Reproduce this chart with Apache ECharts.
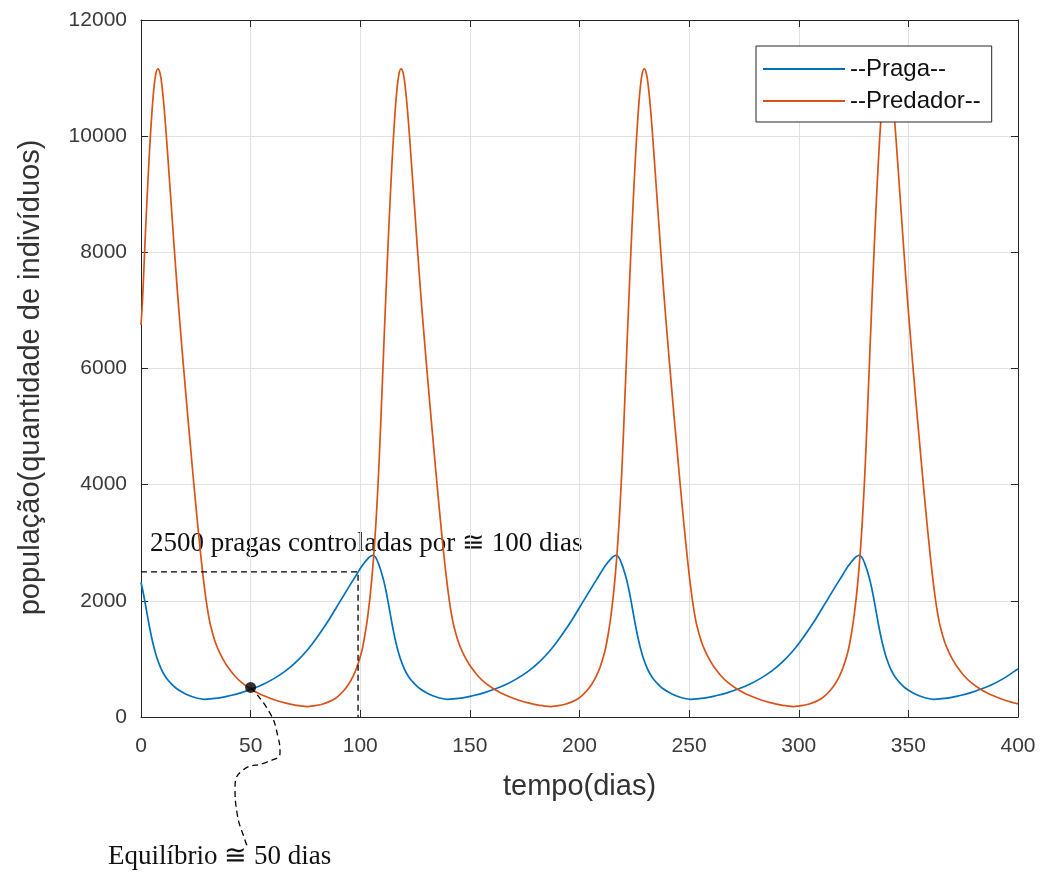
<!DOCTYPE html>
<html>
<head>
<meta charset="utf-8">
<script src="https://cdn.jsdelivr.net/npm/echarts@6/dist/echarts.min.js"></script>
<style>
  html, body { margin: 0; padding: 0; background: #fff; }
  #myChart { width: 1046px; height: 876px; }
</style>
</head>
<body>
<div id="myChart"></div>
<script>
// praga (presa)
var tempoPraga = [0, 0.9, 1.9, 2.9, 3.9, 4.9, 5.9, 6.9, 7.9, 8.9, 9.9, 10.9, 11.9, 13.9, 15.9, 18.9, 21.9, 24.9, 28.9,
  35.8, 40.8, 45.8, 50.8, 55.8, 60.8, 65.8, 70.8, 75.8, 80.8, 85.8, 90.8, 95.8, 97.8, 99.8, 101.8, 103.8, 104.8, 105.8,
  106.8, 107.8, 108.8, 109.8, 110.8, 111.8, 112.8, 113.8, 114.8, 115.8, 116.8, 117.8, 118.8, 119.8, 120.8, 121.8, 122.8, 124.8, 126.8, 129.8, 132.8, 135.8, 139.8,
  146.7, 151.7, 156.7, 161.7, 166.7, 171.7, 176.7, 181.7, 186.7, 191.7, 196.7, 201.7, 206.7, 208.7, 210.7, 212.7, 214.7, 215.7, 216.7,
  217.7, 218.7, 219.7, 220.7, 221.7, 222.7, 223.7, 224.7, 225.7, 226.7, 227.7, 228.7, 229.7, 230.7, 231.7, 232.7, 233.7, 235.7, 237.7, 240.7, 243.7, 246.7, 250.7,
  257.6, 262.6, 267.6, 272.6, 277.6, 282.6, 287.6, 292.6, 297.6, 302.6, 307.6, 312.6, 317.6, 319.6, 321.6, 323.6, 325.6, 326.6, 327.6,
  328.6, 329.6, 330.6, 331.6, 332.6, 333.6, 334.6, 335.6, 336.6, 337.6, 338.6, 339.6, 340.6, 341.6, 342.6, 343.6, 344.6, 346.6, 348.6, 351.6, 354.6, 357.6, 361.6,
  368.5, 373.5, 378.5, 383.5, 388.5, 393.5, 398.5, 400];
var praga = [2320, 2160, 1960, 1750, 1545, 1360, 1200, 1065, 950, 855, 775, 710, 655, 570, 500, 425, 370, 332, 305,
  330, 370, 420, 485, 565, 665, 790, 950, 1150, 1400, 1680, 1990, 2300, 2420, 2545, 2650, 2740, 2770, 2785,
  2760, 2690, 2590, 2470, 2330, 2160, 1960, 1750, 1545, 1360, 1200, 1065, 950, 855, 775, 710, 655, 570, 500, 425, 370, 332, 305,
  330, 370, 420, 485, 565, 665, 790, 950, 1150, 1400, 1680, 1990, 2300, 2420, 2545, 2650, 2740, 2770, 2785,
  2760, 2690, 2590, 2470, 2330, 2160, 1960, 1750, 1545, 1360, 1200, 1065, 950, 855, 775, 710, 655, 570, 500, 425, 370, 332, 305,
  330, 370, 420, 485, 565, 665, 790, 950, 1150, 1400, 1680, 1990, 2300, 2420, 2545, 2650, 2740, 2770, 2785,
  2760, 2690, 2590, 2470, 2330, 2160, 1960, 1750, 1545, 1360, 1200, 1065, 950, 855, 775, 710, 655, 570, 500, 425, 370, 332, 305,
  330, 370, 420, 485, 565, 665, 790, 825];

// predador
var tempoPredador = [0, 0.7, 1.7, 2.7, 3.7, 4.7, 5.7, 6.7, 7.7,
  8.7, 9.7, 10.7, 11.7, 12.7, 13.7, 14.7, 15.7, 16.7, 17.7, 18.7, 19.7, 20.7, 21.7, 22.7, 23.7, 24.7, 25.7, 26.7, 27.7, 28.7, 29.7, 30.7, 31.7,
  33.7, 35.7, 37.7, 39.7, 42.7, 45.7, 49.7, 53.7, 57.7, 61.7, 65.7, 69.7, 72.7, 75.7,
  78.6, 82.6, 85.6, 88.6, 90.6, 92.6, 94.6, 96.6, 98.6, 100.6, 101.6, 102.6, 103.6, 104.6, 105.6, 106.6, 107.6, 108.6, 109.6, 110.6,
  111.6, 112.6, 113.6, 114.6, 115.6, 116.6, 117.6, 118.6,
  119.6, 120.6, 121.6, 122.6, 123.6, 124.6, 125.6, 126.6, 127.6, 128.6, 129.6, 130.6, 131.6, 132.6, 133.6, 134.6, 135.6, 136.6, 137.6, 138.6, 139.6, 140.6, 141.6, 142.6,
  144.6, 146.6, 148.6, 150.6, 153.6, 156.6, 160.6, 164.6, 168.6, 172.6, 176.6, 180.6, 183.6, 186.6,
  189.5, 193.5, 196.5, 199.5, 201.5, 203.5, 205.5, 207.5, 209.5, 211.5, 212.5, 213.5, 214.5, 215.5, 216.5, 217.5, 218.5, 219.5, 220.5, 221.5,
  222.5, 223.5, 224.5, 225.5, 226.5, 227.5, 228.5, 229.5,
  230.5, 231.5, 232.5, 233.5, 234.5, 235.5, 236.5, 237.5, 238.5, 239.5, 240.5, 241.5, 242.5, 243.5, 244.5, 245.5, 246.5, 247.5, 248.5, 249.5, 250.5, 251.5, 252.5, 253.5,
  255.5, 257.5, 259.5, 261.5, 264.5, 267.5, 271.5, 275.5, 279.5, 283.5, 287.5, 291.5, 294.5, 297.5,
  300.4, 304.4, 307.4, 310.4, 312.4, 314.4, 316.4, 318.4, 320.4, 322.4, 323.4, 324.4, 325.4, 326.4, 327.4, 328.4, 329.4, 330.4, 331.4, 332.4,
  333.4, 334.4, 335.4, 336.4, 337.4, 338.4, 339.4, 340.4,
  341.4, 342.4, 343.4, 344.4, 345.4, 346.4, 347.4, 348.4, 349.4, 350.4, 351.4, 352.4, 353.4, 354.4, 355.4, 356.4, 357.4, 358.4, 359.4, 360.4, 361.4, 362.4, 363.4, 364.4,
  366.4, 368.4, 370.4, 372.4, 375.4, 378.4, 382.4, 386.4, 390.4, 394.4, 398.4, 400];
var predador = [6750, 7180, 8060, 8880, 9620, 10250, 10750, 11060, 11160,
  11080, 10820, 10420, 9930, 9400, 8860, 8320, 7790, 7280, 6800, 6340, 5890, 5450, 5020, 4600, 4180, 3770, 3370, 2990, 2630, 2300, 2010, 1770, 1580,
  1310, 1120, 975, 855, 710, 600, 490, 405, 340, 285, 242, 210, 193, 180,
  192, 220, 260, 320, 380, 460, 560, 690, 870, 1120, 1300, 1520, 1790, 2120, 2520, 3020, 3640, 4400, 5300, 6250,
  7180, 8060, 8880, 9620, 10250, 10750, 11060, 11160,
  11080, 10820, 10420, 9930, 9400, 8860, 8320, 7790, 7280, 6800, 6340, 5890, 5450, 5020, 4600, 4180, 3770, 3370, 2990, 2630, 2300, 2010, 1770, 1580,
  1310, 1120, 975, 855, 710, 600, 490, 405, 340, 285, 242, 210, 193, 180,
  192, 220, 260, 320, 380, 460, 560, 690, 870, 1120, 1300, 1520, 1790, 2120, 2520, 3020, 3640, 4400, 5300, 6250,
  7180, 8060, 8880, 9620, 10250, 10750, 11060, 11160,
  11080, 10820, 10420, 9930, 9400, 8860, 8320, 7790, 7280, 6800, 6340, 5890, 5450, 5020, 4600, 4180, 3770, 3370, 2990, 2630, 2300, 2010, 1770, 1580,
  1310, 1120, 975, 855, 710, 600, 490, 405, 340, 285, 242, 210, 193, 180,
  192, 220, 260, 320, 380, 460, 560, 690, 870, 1120, 1300, 1520, 1790, 2120, 2520, 3020, 3640, 4400, 5300, 6250,
  7180, 8060, 8880, 9620, 10250, 10750, 11060, 11160,
  11080, 10820, 10420, 9930, 9400, 8860, 8320, 7790, 7280, 6800, 6340, 5890, 5450, 5020, 4600, 4180, 3770, 3370, 2990, 2630, 2300, 2010, 1770, 1580,
  1310, 1120, 975, 855, 710, 600, 490, 405, 340, 285, 242, 225];

// anotacoes (coordenadas em dias / individuos)
var equilibrio = [50, 510];
var controleX = [0, 99, 99];
var controleY = [2500, 2500, 0];
var setaX = [50, 58.8, 62.5, 63.4, 57.5, 46.5, 42.9, 43.8, 47.4, 48.8];
var setaY = [510, 69, -344, -620, -775, -913, -1205, -1653, -2118, -2256];

function junta(xs, ys) {
  var arr = [];
  for (var i = 0; i < xs.length; i++) arr.push([xs[i], ys[i]]);
  return arr;
}

var corEixo = '#262626';
var fonte = '"Liberation Sans", Arial, sans-serif';
var fonteSerif = '"Liberation Serif", "DejaVu Serif", serif';

function eixo(tipo, pos, min, max, intervalo, comRotulo) {
  var e = {
    type: 'value', position: pos, min: min, max: max, interval: intervalo,
    axisLine: { show: true, onZero: false, lineStyle: { color: corEixo, width: 1 } },
    axisTick: { show: true, inside: true, length: 7, lineStyle: { color: corEixo } },
    axisLabel: { show: false },
    splitLine: { show: false }
  };
  if (comRotulo) {
    e.axisLabel = {
      show: true, fontFamily: fonte, fontSize: 21, color: '#3a3a3a',
      margin: tipo === 'x' ? 19 : 14,
      formatter: function (v) { return String(v); }
    };
    e.splitLine = { show: true, lineStyle: { color: '#e0e0e0', width: 1 } };
    e.nameLocation = 'middle';
    e.nameTextStyle = { fontFamily: fonte, fontSize: 29, color: '#333' };
  }
  return e;
}

var myChart = echarts.init(document.getElementById('myChart'));

var xBase = eixo('x', 'bottom', 0, 400, 50, true);
xBase.name = 'tempo(dias)';
xBase.nameGap = 55;
var yBase = eixo('y', 'left', 0, 12000, 2000, true);
yBase.name = 'população(quantidade de indivíduos)';
yBase.nameGap = 96;
yBase.nameTextStyle.padding = [0, 18, 0, 0];

myChart.setOption({
  animation: false,
  backgroundColor: '#fff',
  grid: { left: 141, right: 28, top: 20, bottom: 159, containLabel: false },
  legend: {
    data: ['--Praga--', '--Predador--'],
    orient: 'vertical',
    left: 756, top: 46,
    padding: [11, 11, 9, 7],
    itemGap: 8,
    itemWidth: 82, itemHeight: 2,
    icon: 'rect',
    backgroundColor: '#fff',
    borderColor: corEixo, borderWidth: 1,
    textStyle: { fontFamily: fonte, fontSize: 24, color: '#111' }
  },
  xAxis: [xBase, eixo('x', 'top', 0, 400, 50, false)],
  yAxis: [yBase, eixo('y', 'right', 0, 12000, 2000, false)],
  series: [
    {
      name: '--Praga--', type: 'line', data: junta(tempoPraga, praga),
      showSymbol: false, smooth: 0.4, z: 3,
      lineStyle: { color: '#0072BD', width: 1.7 }, itemStyle: { color: '#0072BD' }
    },
    {
      name: '--Predador--', type: 'line', data: junta(tempoPredador, predador),
      showSymbol: false, smooth: 0.4, z: 3,
      lineStyle: { color: '#D95319', width: 1.7 }, itemStyle: { color: '#D95319' }
    },
    {
      name: 'controle', type: 'line', data: junta(controleX, controleY),
      showSymbol: false, silent: true, z: 4,
      lineStyle: { color: '#000', width: 1.3, type: [6, 4] }
    },
    {
      name: 'seta', type: 'line', data: junta(setaX, setaY),
      showSymbol: false, smooth: 0.5, clip: false, silent: true, z: 4,
      lineStyle: { color: '#000', width: 1.3, type: [6, 4] }
    },
    {
      name: 'equilibrio', type: 'scatter', data: [equilibrio],
      symbolSize: 11, z: 5,
      itemStyle: { color: '#000' }
    }
  ],
  graphic: [
    {
      type: 'text', left: 150, top: 530,
      style: { text: '2500 pragas controladas por ≅ 100 dias', font: '27px ' + fonteSerif, fill: '#111' }
    },
    {
      type: 'text', left: 108, top: 843,
      style: { text: 'Equilíbrio ≅ 50 dias', font: '27px ' + fonteSerif, fill: '#111' }
    }
  ]
});
</script>
</body>
</html>
